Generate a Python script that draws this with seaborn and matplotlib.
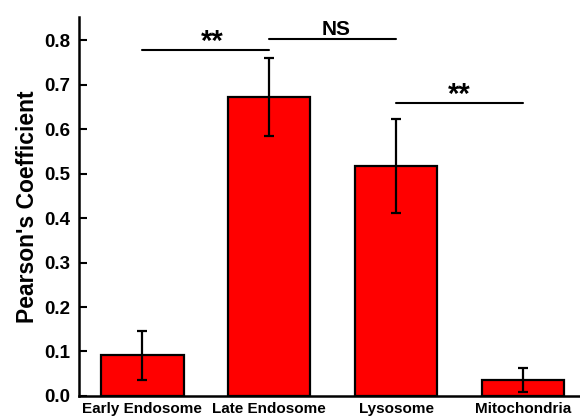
import matplotlib
matplotlib.use('Agg')
import matplotlib.pyplot as plt
import seaborn as sns
import pandas as pd

# values
categories = ['Early Endosome', 'Late Endosome', 'Lysosome', 'Mitochondria']
means = [0.091, 0.672, 0.518, 0.037]
errors = [0.054, 0.088, 0.106, 0.027]

# significance brackets: (left idx, right idx, height, label, label x)
brackets = [(0, 1, 0.778, '**', 0.55), (1, 2, 0.802, 'NS', 1.53), (2, 3, 0.658, '**', 2.5)]

sns.set_style('ticks')
plt.rcParams['font.family'] = ['Liberation Sans', 'DejaVu Sans']
plt.rcParams['font.weight'] = 'bold'
for key in ['text.color', 'axes.labelcolor', 'xtick.color', 'ytick.color', 'axes.edgecolor']:
    plt.rcParams[key] = 'black'

df = pd.DataFrame({'organelle': categories, 'pearson': means})

fig = plt.figure(figsize=(5.8, 4.19), dpi=100)
ax = fig.add_axes([0.136, 0.055, 0.864, 0.904])

sns.barplot(data=df, x='organelle', y='pearson', color='#ff0000', width=0.65,
            edgecolor='black', linewidth=1.6, saturation=1, errorbar=None, ax=ax)
ax.errorbar(range(len(categories)), means, yerr=errors, fmt='none',
            ecolor='black', elinewidth=1.6, capsize=3.5, capthick=1.6)

for i, j, h, lab, lx in brackets:
    ax.plot([i, j], [h, h], color='black', lw=1.5)
    if lab == 'NS':
        ax.text(lx, h + 0.011, lab, ha='center', va='baseline',
                fontsize=15, fontweight='bold')
    else:
        ax.text(lx, h + 0.001, lab, ha='center', va='baseline',
                fontsize=21, fontweight='bold')

ax.set_xlim(-0.5, 3.45)
ax.set_ylim(0, 0.852)
ax.set_yticks([0.0, 0.1, 0.2, 0.3, 0.4, 0.5, 0.6, 0.7, 0.8])
ax.set_yticklabels(['0.0', '0.1', '0.2', '0.3', '0.4', '0.5', '0.6', '0.7', '0.8'])
ax.tick_params(axis='y', direction='in', length=6, width=1.5, labelsize=13.5, pad=6)
ax.tick_params(axis='x', length=0, labelsize=11, pad=4)
for t in ax.get_xticklabels() + ax.get_yticklabels():
    t.set_fontweight('bold')
ax.set_xlabel('')
ax.set_ylabel("Pearson's Coefficient", fontsize=16.5, fontweight='bold', labelpad=4)
sns.despine(ax=ax)
ax.spines['left'].set_linewidth(1.8)
ax.spines['bottom'].set_linewidth(1.8)

fig.savefig('out.png', dpi=100)
